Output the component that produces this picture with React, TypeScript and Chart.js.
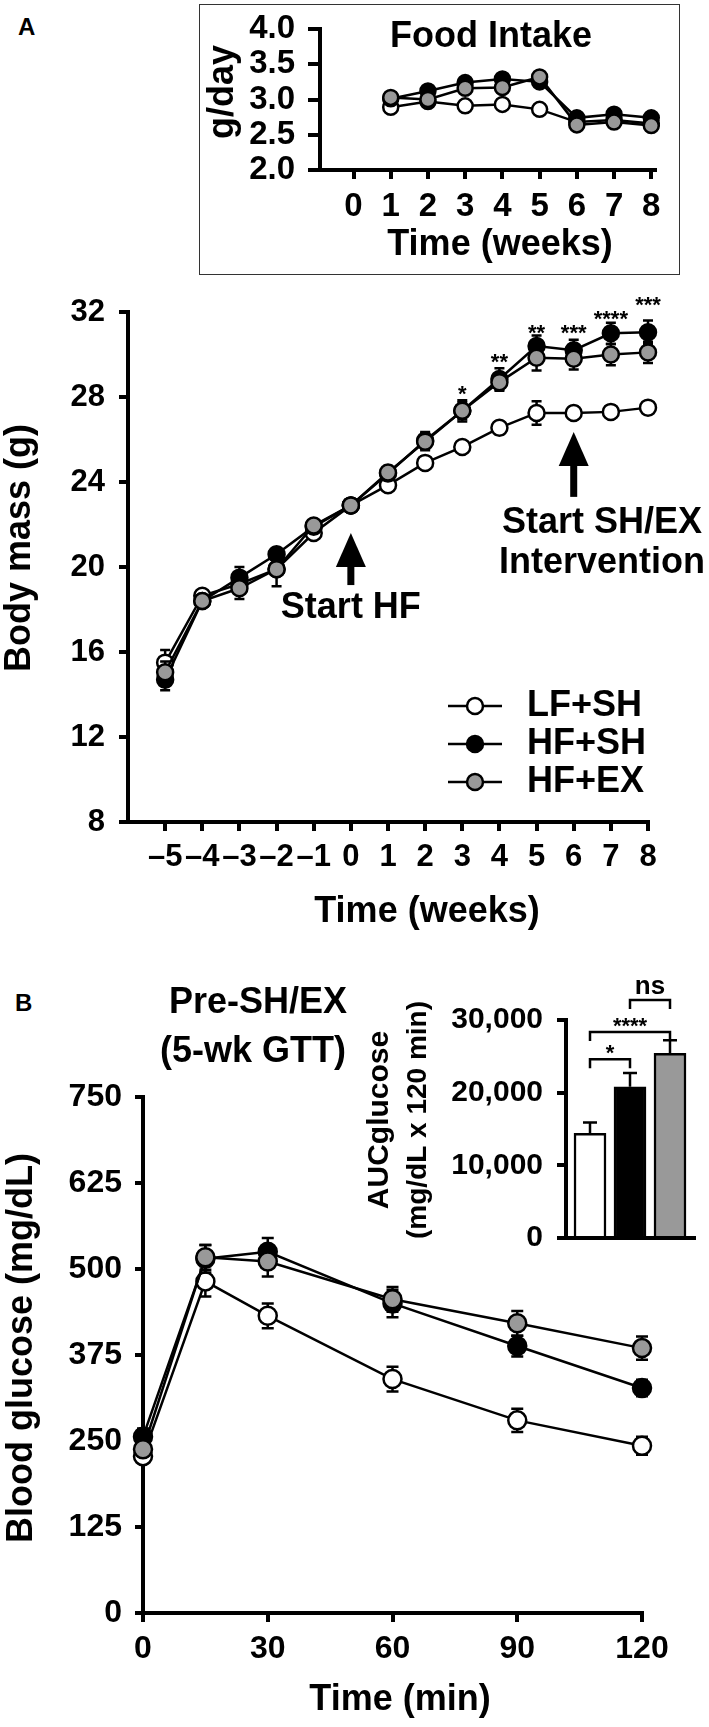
import React, { useEffect, useRef } from "react";
import { Chart, registerables } from "chart.js";

Chart.register(...registerables);

const FONT_FAMILY = "'Liberation Sans', Arial, Helvetica, sans-serif";

// ---------- groups ----------
const groupNames = ["LF+SH", "HF+SH", "HF+EX"];
const groupFill = ["#ffffff", "#000000", "#999999"];
const groupOrder = [2, 1, 0];

// ---------- Panel A inset: food intake ----------
const foodWeeks = [1, 2, 3, 4, 5, 6, 7, 8];
const foodLFSH = [2.89, 2.97, 2.91, 2.93, 2.86, 2.68, 2.71, 2.66];
const foodHFSH = [3.01, 3.12, 3.24, 3.29, 3.25, 2.74, 2.79, 2.74];
const foodHFEX = [3.03, 3.0, 3.16, 3.17, 3.32, 2.64, 2.68, 2.63];
const foodXTicks = [0, 1, 2, 3, 4, 5, 6, 7, 8];
const foodYTicks = [2.0, 2.5, 3.0, 3.5, 4.0];

// ---------- Panel A: body mass ----------
const massWeeks = [-5, -4, -3, -2, -1, 0, 1, 2, 3, 4, 5, 6, 7, 8];
const massLFSH = [15.5, 18.65, 19.2, 19.9, 21.6, 22.9, 23.85, 24.9, 25.65, 26.55, 27.25, 27.25, 27.3, 27.5];
const massHFSH = [14.7, 18.4, 19.5, 20.6, 21.9, 22.9, 24.4, 25.95, 27.35, 28.85, 30.4, 30.2, 31.0, 31.05];
const massHFEX = [15.05, 18.4, 19.0, 19.9, 21.95, 22.9, 24.45, 25.9, 27.35, 28.7, 29.85, 29.8, 30.0, 30.1];
const massLFSHErr = [0.6, 0.2, 0.3, 0.3, 0.2, 0.2, 0.2, 0.3, 0.25, 0.3, 0.55, 0.3, 0.3, 0.2];
const massHFSHErr = [0.5, 0.2, 0.5, 0.3, 0.2, 0.2, 0.3, 0.4, 0.5, 0.5, 0.5, 0.5, 0.5, 0.55];
const massHFEXErr = [0.5, 0.2, 0.5, 0.8, 0.2, 0.2, 0.3, 0.4, 0.4, 0.4, 0.6, 0.5, 0.5, 0.5];
const massXTicks = [-5, -4, -3, -2, -1, 0, 1, 2, 3, 4, 5, 6, 7, 8];
const massYTicks = [8, 12, 16, 20, 24, 28, 32];
const massStarWeeks = [3, 4, 5, 6, 7, 8];
const massStarLabels = ["*", "**", "**", "***", "****", "***"];
const massStarLevels = [28.42, 29.93, 31.29, 31.29, 31.95, 32.61];
const arrowWeeks = [0, 6];
const arrowTips = [21.6, 26.35];
const arrowBases = [19.15, 23.3];

// ---------- Panel B: GTT ----------
const gttTimes = [0, 15, 30, 60, 90, 120];
const gttLFSH = [228, 482, 432, 340, 280, 243];
const gttHFSH = [256, 515, 525, 450, 388, 327];
const gttHFEX = [238, 517, 511, 456, 421, 385];
const gttLFSHErr = [10, 22, 18, 18, 17, 13];
const gttHFSHErr = [12, 20, 20, 20, 15, 12];
const gttHFEXErr = [10, 18, 22, 18, 18, 17];
const gttXTicks = [0, 30, 60, 90, 120];
const gttYTicks = [0, 125, 250, 375, 500, 625, 750];

// ---------- Panel B inset: AUC ----------
const aucValues = [14400, 20800, 25400];
const aucErrors = [1500, 1900, 1800];
const aucYTicks = [0, 10000, 20000, 30000];
const aucCompareFrom = [0, 0, 1];
const aucCompareTo = [1, 2, 2];
const aucCompareLevels = [24600, 28350, 32750];
const aucCompareLabels = ["*", "****", "ns"];

// ---------- helpers ----------
const bold = (size: number) => `bold ${size}px ${FONT_FAMILY}`;

function drawText(
  ctx: CanvasRenderingContext2D,
  str: string,
  x: number,
  y: number,
  size: number,
  rotate = false,
  align: CanvasTextAlign = "center",
  baseline: CanvasTextBaseline = "middle"
) {
  ctx.save();
  ctx.font = bold(size);
  ctx.fillStyle = "#000";
  ctx.textAlign = align;
  ctx.textBaseline = baseline;
  if (rotate) {
    ctx.translate(x, y);
    ctx.rotate(-Math.PI / 2);
    ctx.fillText(str, 0, 0);
  } else {
    ctx.fillText(str, x, y);
  }
  ctx.restore();
}

type Box = { w: number; h: number; left: number; top: number; right: number; bottom: number };

function axis(
  kind: "x" | "y",
  box: Box,
  min: number,
  max: number,
  ticks: number[] | null,
  fmt: (v: number) => string,
  size: number,
  tickLength: number,
  padding: number
): any {
  return {
    type: "linear",
    min,
    max,
    offset: false,
    afterBuildTicks: (s: any) => {
      if (ticks) s.ticks = ticks.map((v) => ({ value: v }));
    },
    afterFit: (s: any) => {
      if (kind === "x") s.height = box.h - box.bottom;
      else s.width = box.left;
      s.paddingLeft = 0;
      s.paddingRight = 0;
      s.paddingTop = 0;
      s.paddingBottom = 0;
    },
    grid: {
      display: true,
      offset: false,
      drawOnChartArea: false,
      drawTicks: ticks !== null,
      tickLength,
      tickWidth: 4,
      tickColor: "#000",
      color: "#000",
      lineWidth: 4,
    },
    border: { display: true, color: "#000", width: 4 },
    ticks: {
      display: ticks !== null,
      autoSkip: false,
      maxRotation: 0,
      minRotation: 0,
      padding,
      color: "#000",
      font: { family: FONT_FAMILY, size, weight: "bold" },
      callback: (v: any) => fmt(Number(v)),
    },
  };
}

function lineDataset(i: number, xs: number[], ys: number[], errs: number[] | null, radius: number): any {
  return {
    label: groupNames[i],
    data: xs.map((x, k) => ({ x, y: ys[k] })),
    errors: errs,
    borderColor: "#000",
    borderWidth: 2.5,
    pointRadius: radius,
    pointHoverRadius: radius,
    pointBorderWidth: 2.5,
    pointBackgroundColor: groupFill[i],
    pointBorderColor: "#000",
    tension: 0,
    fill: false,
    clip: false,
    order: groupOrder[i],
  };
}

const errorBarPlugin = (cap: number, upOnly = false) => ({
  id: "errbars",
  beforeDatasetDraw(chart: any, args: any) {
    const ds = chart.data.datasets[args.index];
    if (!ds.errors) return;
    const ctx: CanvasRenderingContext2D = chart.ctx;
    const ys = chart.scales.y;
    ctx.save();
    ctx.strokeStyle = "#000";
    ctx.lineWidth = 2.5;
    args.meta.data.forEach((el: any, k: number) => {
      const v = ds.data[k].y;
      const e = ds.errors[k];
      const x = el.x;
      const yTop = ys.getPixelForValue(v + e);
      const yBot = ys.getPixelForValue(upOnly ? v : v - e);
      ctx.beginPath();
      ctx.moveTo(x, yTop);
      ctx.lineTo(x, yBot);
      ctx.moveTo(x - cap, yTop);
      ctx.lineTo(x + cap, yTop);
      if (!upOnly) {
        ctx.moveTo(x - cap, yBot);
        ctx.lineTo(x + cap, yBot);
      }
      ctx.stroke();
    });
    ctx.restore();
  },
});

function baseOptions(box: Box, scales: any, plugins: any = {}): any {
  return {
    responsive: false,
    animation: false,
    devicePixelRatio: 1,
    layout: { padding: { left: 0, bottom: 0, top: box.top, right: box.w - box.right } },
    plugins: { legend: { display: false }, tooltip: { enabled: false }, ...plugins },
    events: [],
    scales,
  };
}

// ---------- chart builders ----------
const foodBox: Box = { w: 481, h: 271, left: 121, top: 25, right: 456, bottom: 166 };
function buildFood(): any {
  const box = foodBox;
  return {
    type: "line",
    data: {
      datasets: [
        lineDataset(0, foodWeeks, foodLFSH, null, 7.5),
        lineDataset(1, foodWeeks, foodHFSH, null, 7.5),
        lineDataset(2, foodWeeks, foodHFEX, null, 7.5),
      ],
    },
    options: baseOptions(box, {
      x: axis("x", box, -0.9, 8.1, foodXTicks, (v) => String(v), 33, 9, 8),
      y: axis("y", box, 2.0, 4.0, foodYTicks, (v) => v.toFixed(1), 33, 12, 13),
    }),
    plugins: [
      {
        id: "foodText",
        afterDraw(chart: any) {
          const ctx = chart.ctx;
          drawText(ctx, "Food Intake", 292, 33, 36);
          drawText(ctx, "Time (weeks)", 301, 241, 36);
          drawText(ctx, "g/day", 24, 88, 36, true);
        },
      },
    ],
  };
}

const massBox: Box = { w: 709, h: 660, left: 128, top: 32, right: 648, bottom: 542 };
function drawArrow(ctx: CanvasRenderingContext2D, x: number, tip: number, base: number) {
  const headH = 34;
  const headW = 30;
  const shaft = 7;
  ctx.save();
  ctx.fillStyle = "#000";
  ctx.beginPath();
  ctx.moveTo(x, tip);
  ctx.lineTo(x + headW / 2, tip + headH);
  ctx.lineTo(x - headW / 2, tip + headH);
  ctx.closePath();
  ctx.fill();
  ctx.fillRect(x - shaft / 2, tip + headH - 1, shaft, base - tip - headH + 1);
  ctx.restore();
}
function buildMass(): any {
  const box = massBox;
  return {
    type: "line",
    data: {
      datasets: [
        lineDataset(0, massWeeks, massLFSH, massLFSHErr, 8),
        lineDataset(1, massWeeks, massHFSH, massHFSHErr, 8),
        lineDataset(2, massWeeks, massHFEX, massHFEXErr, 8),
      ],
    },
    options: baseOptions(box, {
      x: axis("x", box, -6, 8, massXTicks, (v) => (v < 0 ? "\u2013" + Math.abs(v) : String(v)), 31, 9, 8),
      y: axis("y", box, 8, 32, massYTicks, (v) => String(v), 31, 9, 14),
    }),
    plugins: [
      errorBarPlugin(5),
      {
        id: "massText",
        afterDraw(chart: any) {
          const ctx: CanvasRenderingContext2D = chart.ctx;
          const xs = chart.scales.x;
          const ys = chart.scales.y;
          drawText(ctx, "Body mass (g)", 20, 268, 36, true);
          drawText(ctx, "Time (weeks)", 427, 632, 36);
          massStarWeeks.forEach((w, k) => {
            drawText(ctx, massStarLabels[k], xs.getPixelForValue(w), ys.getPixelForValue(massStarLevels[k]) + 12.8, 22, false, "center", "alphabetic");
          });
          arrowWeeks.forEach((w, k) => {
            drawArrow(ctx, xs.getPixelForValue(w), ys.getPixelForValue(arrowTips[k]), ys.getPixelForValue(arrowBases[k]));
          });
          drawText(ctx, "Start HF", xs.getPixelForValue(0), 328, 36);
          drawText(ctx, "Start SH/EX", 602, 243, 36);
          drawText(ctx, "Intervention", 602, 283, 36);
          // legend
          const legendY = [426, 464, 502];
          chart.data.datasets.forEach((ds: any, k: number) => {
            const y = legendY[k];
            ctx.save();
            ctx.strokeStyle = "#000";
            ctx.lineWidth = 2.5;
            ctx.beginPath();
            ctx.moveTo(448, y);
            ctx.lineTo(502, y);
            ctx.stroke();
            ctx.beginPath();
            ctx.arc(475, y, 8, 0, Math.PI * 2);
            ctx.fillStyle = ds.pointBackgroundColor;
            ctx.fill();
            ctx.stroke();
            ctx.restore();
            drawText(ctx, ds.label, 527, y, 36, false, "left", "middle");
          });
        },
      },
    ],
  };
}

const gttBox: Box = { w: 709, h: 767, left: 143, top: 137, right: 642, bottom: 653 };
function buildGtt(): any {
  const box = gttBox;
  return {
    type: "line",
    data: {
      datasets: [
        lineDataset(0, gttTimes, gttLFSH, gttLFSHErr, 9),
        lineDataset(1, gttTimes, gttHFSH, gttHFSHErr, 9),
        lineDataset(2, gttTimes, gttHFEX, gttHFEXErr, 9),
      ],
    },
    options: baseOptions(box, {
      x: axis("x", box, 0, 120, gttXTicks, (v) => String(v), 32, 9, 8),
      y: axis("y", box, 0, 750, gttYTicks, (v) => String(v), 32, 8, 13),
    }),
    plugins: [
      errorBarPlugin(6),
      {
        id: "gttText",
        afterDraw(chart: any) {
          const ctx = chart.ctx;
          drawText(ctx, "Pre-SH/EX", 258, 43, 36);
          drawText(ctx, "(5-wk GTT)", 253, 92, 36);
          drawText(ctx, "Blood glucose (mg/dL)", 22, 388, 36, true);
          drawText(ctx, "Time (min)", 400, 740, 36);
        },
      },
    ],
  };
}

const aucBox: Box = { w: 349, h: 300, left: 206, top: 60, right: 334, bottom: 278 };
function buildAuc(): any {
  const box = aucBox;
  return {
    type: "bar",
    data: {
      datasets: [
        {
          label: "AUC",
          data: aucValues.map((v, i) => ({ x: i + 1, y: v })),
          errors: aucErrors,
          backgroundColor: groupFill,
          borderColor: "#000",
          borderWidth: 2.5,
          barThickness: 32,
          clip: false,
        },
      ],
    },
    options: baseOptions(box, {
      x: axis("x", box, 0.4, 3.6, null, (v) => String(v), 30, 0, 0),
      y: axis("y", box, 0, 30000, aucYTicks, (v) => v.toLocaleString("en-US"), 30, 9, 14),
    }),
    plugins: [
      errorBarPlugin(7, true),
      {
        id: "aucText",
        afterDraw(chart: any) {
          const ctx: CanvasRenderingContext2D = chart.ctx;
          const xs = chart.scales.x;
          const ys = chart.scales.y;
          drawText(ctx, "AUCglucose", 20, 160, 30, true);
          drawText(ctx, "(mg/dL x 120 min)", 58, 160, 28, true);
          aucCompareFrom.forEach((a, k) => {
            const x1 = xs.getPixelForValue(a + 1);
            const x2 = xs.getPixelForValue(aucCompareTo[k] + 1);
            const y = ys.getPixelForValue(aucCompareLevels[k]);
            ctx.save();
            ctx.strokeStyle = "#000";
            ctx.lineWidth = 2.5;
            ctx.beginPath();
            ctx.moveTo(x1, y + 9);
            ctx.lineTo(x1, y);
            ctx.lineTo(x2, y);
            ctx.lineTo(x2, y + 9);
            ctx.stroke();
            ctx.restore();
            const label = aucCompareLabels[k];
            if (label === "ns") drawText(ctx, label, (x1 + x2) / 2, y - 6, 26, false, "center", "alphabetic");
            else drawText(ctx, label, (x1 + x2) / 2, y + 1, 22, false, "center", "alphabetic");
          });
        },
      },
    ],
  };
}

function ChartCanvas(props: { left: number; top: number; width: number; height: number; build: () => any }) {
  const ref = useRef<HTMLCanvasElement>(null);
  useEffect(() => {
    const chart = new Chart(ref.current as HTMLCanvasElement, props.build());
    return () => chart.destroy();
  }, []);
  return (
    <canvas
      ref={ref}
      width={props.width}
      height={props.height}
      style={{ position: "absolute", left: props.left, top: props.top, width: props.width, height: props.height }}
    />
  );
}

const panelLabel = (txt: string, left: number, top: number) => (
  <div
    style={{
      position: "absolute",
      left,
      top,
      font: bold(24),
      lineHeight: "24px",
      color: "#000",
    }}
  >
    {txt}
  </div>
);

export default function App() {
  return (
    <div style={{ position: "absolute", left: 0, top: 0, width: 709, height: 1727, background: "#fff", overflow: "hidden" }}>
      {panelLabel("A", 18, 15)}
      {panelLabel("B", 15, 991)}
      <div
        style={{
          position: "absolute",
          left: 199,
          top: 4,
          width: 481,
          height: 271,
          border: "1.5px solid #333",
          boxSizing: "border-box",
        }}
      />
      <ChartCanvas left={199} top={4} width={481} height={271} build={buildFood} />
      <ChartCanvas left={0} top={280} width={709} height={660} build={buildMass} />
      <ChartCanvas left={0} top={960} width={709} height={767} build={buildGtt} />
      <ChartCanvas left={360} top={960} width={349} height={300} build={buildAuc} />
    </div>
  );
}
